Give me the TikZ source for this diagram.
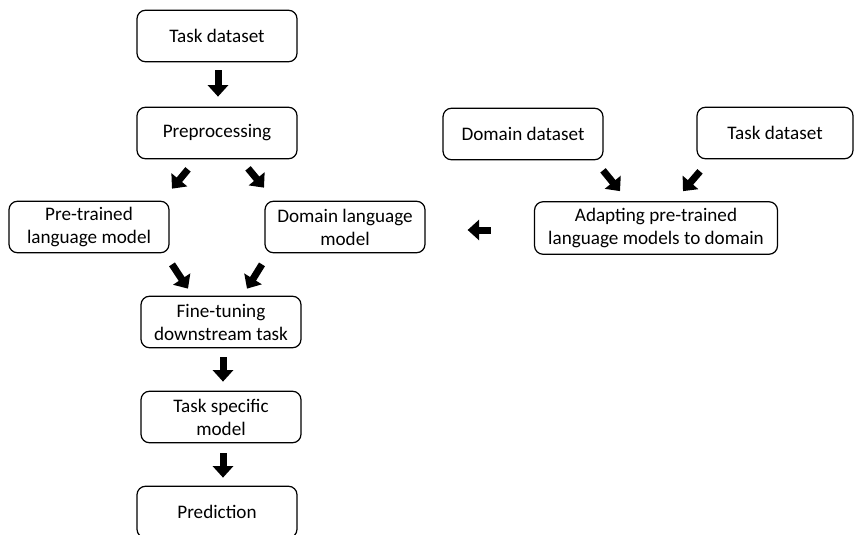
\documentclass[tikz,border=0pt]{standalone}
\usepackage{fontspec}
\setmainfont{Carlito}
\usepackage{tikz}
\usetikzlibrary{arrows.meta}
\tikzset{
  boite/.style = {align=center, inner sep=0pt, text centered, draw=black,
    line width=0.7pt, rounded corners=0.17cm,
    font=\fontsize{10.9}{13.1}\selectfont},% boite arrondie
  boite_s/.style = {boite, minimum width=3.2cm, minimum height=1.03cm},% boite standard
  boite_l/.style = {boite, minimum width=4.86cm, minimum height=1.05cm},% boite large
  fleche/.style = {line width=0.14cm, line cap=butt,
    -{Triangle[width=0.4cm, length=0.23cm]}}% grosse fleche noire
}

\begin{document}
\begin{tikzpicture}[x=0.02cm, y=-0.02cm]
\useasboundingbox (0,0) rectangle (854,534);
% colonne de gauche
\node [boite_s] (td_a) at (217,36) {Task dataset};
\node [boite_s] (prep) at (217,133) {Preprocessing};
\node [boite_s] (plm) at (89,227) {Pre-trained\\language model};
\node [boite_s] (dlm) at (345,227) {Domain language\\model};
\node [boite_s] (fine) at (221,322) {Fine-tuning\\downstream task};
\node [boite_s] (tsm) at (221,417) {Task specific\\model};
\node [boite_s] (pred) at (217,512) {Prediction};
% branche de droite
\node [boite_s] (dd) at (523,134) {Domain dataset};
\node [boite_s, minimum width=3.12cm] (td_b) at (775,133) {Task dataset};
\node [boite_l] (adapt) at (656,228) {Adapting pre-trained\\language models to domain};

\draw [fleche] ([shift={(1,8)}]td_a.south) -- ([shift={(1,-10)}]prep.north);
\draw [fleche] ([shift={(-29,10)}]prep.south) -- ([shift={(83,-12)}]plm.north);
\draw [fleche] ([shift={(31,9)}]prep.south) -- ([shift={(-81,-13)}]dlm.north);
\draw [fleche] ([shift={(83,11)}]plm.south) -- ([shift={(-33,-7)}]fine.north);
\draw [fleche] ([shift={(-83,11)}]dlm.south) -- ([shift={(26,-7)}]fine.north);
\draw [fleche] ([shift={(2,9)}]fine.south) -- ([shift={(2,-9)}]tsm.north);
\draw [fleche] ([shift={(2,10)}]tsm.south) -- ([shift={(6,-8)}]pred.north);
\draw [fleche] ([shift={(-43,2)}]adapt.west) -- ([shift={(42,3)}]dlm.east);
\draw [fleche] ([shift={(80,10)}]dd.south) -- ([shift={(-36,-10)}]adapt.north);
\draw [fleche] ([shift={(-75,12)}]td_b.south) -- ([shift={(27,-10)}]adapt.north);
\end{tikzpicture}
\end{document}
